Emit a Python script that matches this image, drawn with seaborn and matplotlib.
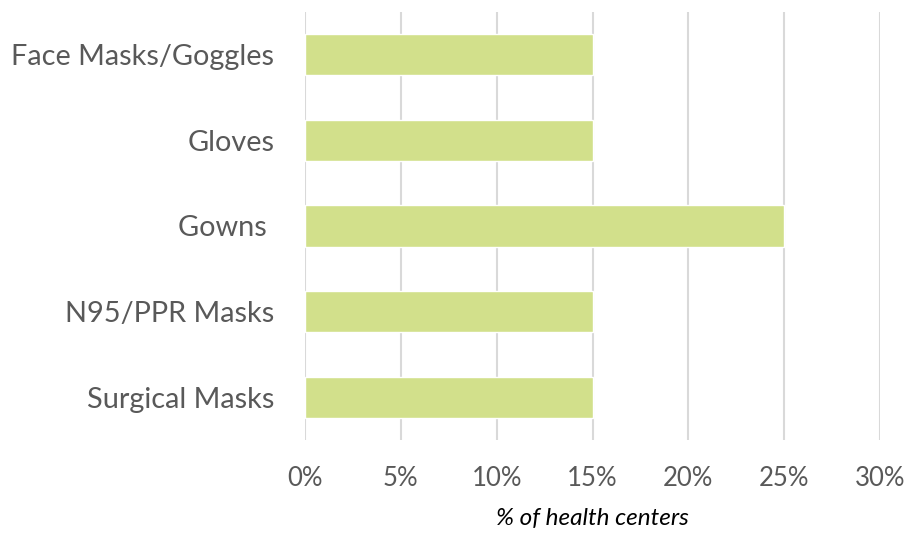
import matplotlib
matplotlib.use("Agg")
import matplotlib.pyplot as plt
from matplotlib.ticker import PercentFormatter
import pandas as pd
import seaborn as sns

# data
items = ["Face Masks/Goggles", "Gloves", "Gowns ", "N95/PPR Masks", "Surgical Masks"]
pct = [15, 15, 25, 15, 15]
xticks = [0, 5, 10, 15, 20, 25, 30]

df = pd.DataFrame({"item": items, "pct": pct})

sns.set_theme(style="white")
plt.rcParams["font.family"] = ["Lato", "DejaVu Sans"]

fig = plt.figure(figsize=(9.09, 5.33), dpi=100)
ax = fig.add_axes([305 / 909, 1 - 440 / 533, 575 / 909, 428 / 533])

sns.barplot(data=df, x="pct", y="item", color="#D2E08B", width=0.48,
            saturation=1, ax=ax, zorder=3)

ax.set_xlim(0, 30)
ax.set_xticks(xticks)
ax.xaxis.set_major_formatter(PercentFormatter(decimals=0))
ax.grid(axis="x", color="#D9D9D9", linewidth=1.5, zorder=0)
ax.set_axisbelow(True)
for s in ax.spines.values():
    s.set_visible(False)

ax.tick_params(axis="x", length=0, pad=19, labelsize=18.5, labelcolor="#595959")
ax.tick_params(axis="y", length=0, pad=22, labelsize=20.8, labelcolor="#595959")
ax.set_ylabel("")
ax.set_xlabel("% of health centers", fontsize=17.5, style="italic", color="black", labelpad=12)

fig.savefig("out.png", dpi=100)
